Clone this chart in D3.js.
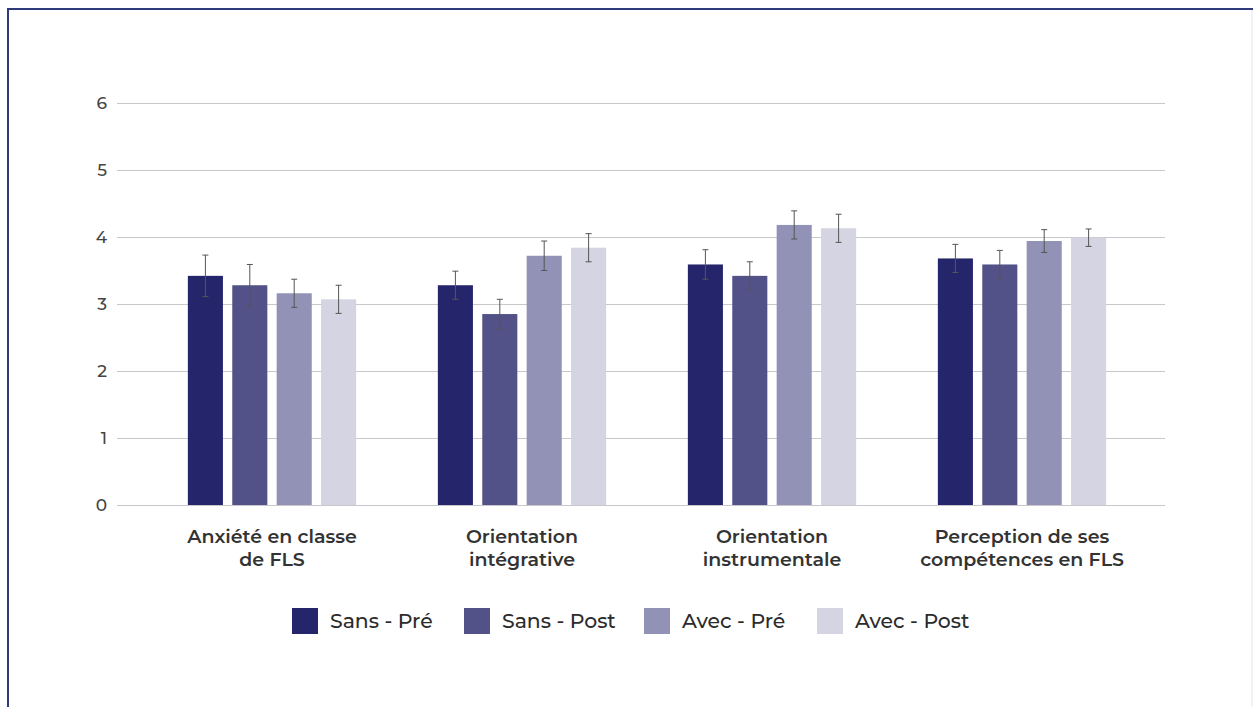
<!DOCTYPE html>
<html><head><meta charset="utf-8">
<script src="https://cdn.jsdelivr.net/npm/d3@7"></script>
<style>
html,body{margin:0;padding:0;background:#fff;}
svg{display:block;}
</style></head>
<body>
<script>
const categories = [["Anxiété en classe","de FLS"],["Orientation","intégrative"],["Orientation","instrumentale"],["Perception de ses","compétences en FLS"]];
const seriesNames = ["Sans - Pré","Sans - Post","Avec - Pré","Avec - Post"];
const sansPre  = [3.42, 3.28, 3.59, 3.68];
const sansPost = [3.28, 2.85, 3.42, 3.59];
const avecPre  = [3.16, 3.72, 4.18, 3.94];
const avecPost = [3.07, 3.84, 4.13, 3.99];
const errSansPre  = [0.31, 0.21, 0.22, 0.21];
const errSansPost = [0.31, 0.22, 0.21, 0.21];
const errAvecPre  = [0.21, 0.22, 0.21, 0.17];
const errAvecPost = [0.21, 0.21, 0.21, 0.13];
const yTicks = [0,1,2,3,4,5,6];
const colors = ["#25256b","#525289","#9292b6","#d4d4e3"];

const values = [sansPre, sansPost, avecPre, avecPost];
const errs = [errSansPre, errSansPost, errAvecPre, errAvecPost];

const W = 1253, H = 707;
const FONT = "Montserrat, 'Open Sans', sans-serif";
const svg = d3.select("body").append("svg").attr("width", W).attr("height", H);

// frame
svg.append("rect").attr("x",0).attr("y",0).attr("width",W).attr("height",H).attr("fill","#fff");
svg.append("line").attr("x1",8).attr("x2",W).attr("y1",9).attr("y2",9).attr("stroke","#2e3a7a").attr("stroke-width",2);
svg.append("line").attr("x1",8).attr("x2",8).attr("y1",8).attr("y2",H).attr("stroke","#2e3a7a").attr("stroke-width",2);
svg.append("line").attr("x1",W-1).attr("x2",W-1).attr("y1",10).attr("y2",H).attr("stroke","#e4e4e8").attr("stroke-width",1);

const y = d3.scaleLinear().domain([0,6]).range([505,103]);
const gridX0 = 117, gridX1 = 1165;

const x0 = d3.scaleBand().domain(d3.range(categories.length)).range([147,1147]);
const x1 = d3.scaleBand().domain(d3.range(seriesNames.length)).range([0, x0.bandwidth()]).paddingInner(0.21).paddingOuter(0.92);

// gridlines
const yAxis = d3.axisLeft(y).tickValues(yTicks).tickSize(-(gridX1-gridX0)).tickPadding(10).tickFormat(d3.format("d"));
const ga = svg.append("g").attr("transform",`translate(${gridX0},0)`).call(yAxis);
ga.select(".domain").remove();
ga.selectAll(".tick line").attr("stroke","#c8c8cc").attr("stroke-width",1);
ga.selectAll(".tick text").attr("fill","#444").style("font-family",FONT).style("font-size","17px").style("font-weight","500").attr("x",-10);

// bars
const groups = svg.append("g").selectAll("g").data(categories).join("g")
  .attr("transform",(d,i)=>`translate(${x0(i)},0)`);
groups.each(function(c, ci){
  const g = d3.select(this);
  seriesNames.forEach((s, si)=>{
    const v = values[si][ci];
    g.append("rect").attr("x", x1(si)).attr("width", x1.bandwidth())
      .attr("y", y(v)).attr("height", y(0)-y(v)).attr("fill", colors[si]);
  });
  seriesNames.forEach((s, si)=>{
    const v = values[si][ci], e = errs[si][ci];
    const cx = x1(si) + x1.bandwidth()/2;
    const eg = g.append("g").attr("stroke","#555").attr("stroke-width",1);
    eg.append("line").attr("x1",cx).attr("x2",cx).attr("y1",y(v+e)).attr("y2",y(v-e));
    eg.append("line").attr("x1",cx-3).attr("x2",cx+3).attr("y1",y(v+e)).attr("y2",y(v+e));
    eg.append("line").attr("x1",cx-3).attr("x2",cx+3).attr("y1",y(v-e)).attr("y2",y(v-e));
  });
  const t = g.append("text").attr("text-anchor","middle").attr("fill","#333")
    .style("font-family",FONT).style("font-weight","600").style("font-size","19px");
  c.forEach((line, li)=>{
    t.append("tspan").attr("x", x0.bandwidth()/2).attr("y", 543 + li*23).text(line);
  });
});

// legend
const legendX = [292, 464, 644, 817];
const lg = svg.append("g");
seriesNames.forEach((s, si)=>{
  lg.append("rect").attr("x", legendX[si]).attr("y", 608).attr("width", 26).attr("height", 26).attr("fill", colors[si]);
  lg.append("text").attr("x", legendX[si]+38).attr("y", 628).attr("fill","#2b2b2b")
    .style("font-family",FONT).style("font-size","20.4px").style("font-weight","500").text(s);
});
</script>
</body></html>
